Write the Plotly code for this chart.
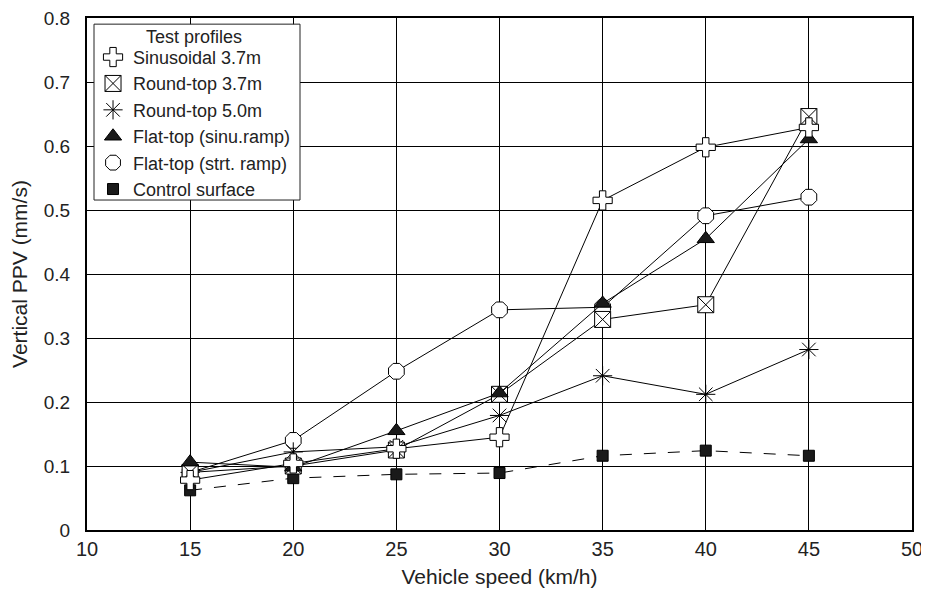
import plotly.graph_objects as go

speed = [15, 20, 25, 30, 35, 40, 45]
sinusoidal_37 = [0.078, 0.104, 0.127, 0.145, 0.515, 0.598, 0.629]
roundtop_37 = [0.090, 0.100, 0.125, 0.212, 0.329, 0.352, 0.646]
roundtop_50 = [0.090, 0.122, 0.130, 0.179, 0.241, 0.212, 0.282]
flattop_sinu = [0.106, 0.098, 0.155, 0.214, 0.354, 0.455, 0.611]
flattop_strt = [0.090, 0.140, 0.248, 0.344, 0.348, 0.491, 0.520]
control = [0.062, 0.081, 0.087, 0.089, 0.116, 0.124, 0.116]

x_ticks = [10, 15, 20, 25, 30, 35, 40, 45, 50]
y_ticks = [0, 0.1, 0.2, 0.3, 0.4, 0.5, 0.6, 0.7, 0.8]
y_tick_labels = ["0", "0.1", "0.2", "0.3", "0.4", "0.5", "0.6", "0.7", "0.8"]

names = ["Sinusoidal 3.7m", "Round-top 3.7m", "Round-top 5.0m",
         "Flat-top (sinu.ramp)", "Flat-top (strt. ramp)", "Control surface"]
legend_title = "Test profiles"

styles = {
    names[0]: dict(symbol="cross", size=16, color="white"),
    names[1]: dict(symbol="square-x", size=16, color="white"),
    names[2]: dict(symbol="asterisk-open", size=16, color="black"),
    names[3]: dict(symbol="triangle-up", size=15, color="#1a1a1a"),
    names[4]: dict(symbol="octagon", size=17, color="white"),
    names[5]: dict(symbol="square", size=11, color="#1a1a1a"),
}
series = {
    names[0]: sinusoidal_37, names[1]: roundtop_37, names[2]: roundtop_50,
    names[3]: flattop_sinu, names[4]: flattop_strt, names[5]: control,
}

fig = go.Figure()

draw_order = [names[5], names[4], names[2], names[1], names[3], names[0]]
for nm in draw_order:
    st = styles[nm]
    fig.add_trace(go.Scatter(
        x=speed, y=series[nm], name=nm, mode="lines+markers", showlegend=False,
        line=dict(color="black", width=1, dash="12px,12px" if nm == names[5] else "solid"),
        marker=dict(symbol=st["symbol"], size=st["size"], color=st["color"],
                    line=dict(color="black", width=1)),
    ))

for nm in names:
    st = styles[nm]
    fig.add_trace(go.Scatter(
        x=[None], y=[None], name=nm, mode="markers", showlegend=True,
        marker=dict(symbol=st["symbol"], size=st["size"], color=st["color"],
                    line=dict(color="black", width=1)),
    ))

font = "Liberation Sans, Arial, sans-serif"

# legend frame and title (paper coords of the box drawn in the reference)
fig.add_shape(type="rect", xref="paper", yref="paper",
              x0=0.0085, x1=0.2582, y0=0.6445, y1=0.988,
              line=dict(color="#222", width=1), fillcolor="white", layer="above")
fig.add_annotation(text=legend_title, xref="paper", yref="paper",
                   x=0.1297, y=0.963, showarrow=False, xanchor="center", yanchor="middle",
                   font=dict(size=18, family=font, color="#222"))

fig.update_layout(
    width=921, height=582,
    margin=dict(l=79, r=17, t=10, b=60),
    paper_bgcolor="white", plot_bgcolor="white",
    font=dict(family=font, size=20, color="#222"),
    xaxis=dict(range=[10, 50], tickvals=x_ticks, showgrid=True, gridcolor="black", gridwidth=1,
               showline=True, linecolor="black", linewidth=2, mirror=True,
               zeroline=False, ticks="", automargin=False, ticklabeloverflow="allow",
               title=dict(text="Vehicle speed (km/h)", standoff=10, font=dict(size=21)),
               tickfont=dict(size=20)),
    yaxis=dict(range=[0, 0.8], tickvals=y_ticks, ticktext=y_tick_labels,
               showgrid=True, gridcolor="black", gridwidth=1,
               showline=True, linecolor="black", linewidth=2, mirror=True,
               zeroline=False, ticks="", automargin=False, ticklabeloverflow="allow",
               ticklabelstandoff=11,
               title=dict(text="Vertical PPV (mm/s)", standoff=10, font=dict(size=21)),
               tickfont=dict(size=19)),
    legend=dict(
        x=0.0073, y=0.9593, xanchor="left", yanchor="top",
        bgcolor="rgba(0,0,0,0)", borderwidth=0,
        font=dict(size=18, family=font, color="#222"),
        traceorder="normal", itemwidth=30, tracegroupgap=0,
    ),
)

fig.write_html("out.html")
